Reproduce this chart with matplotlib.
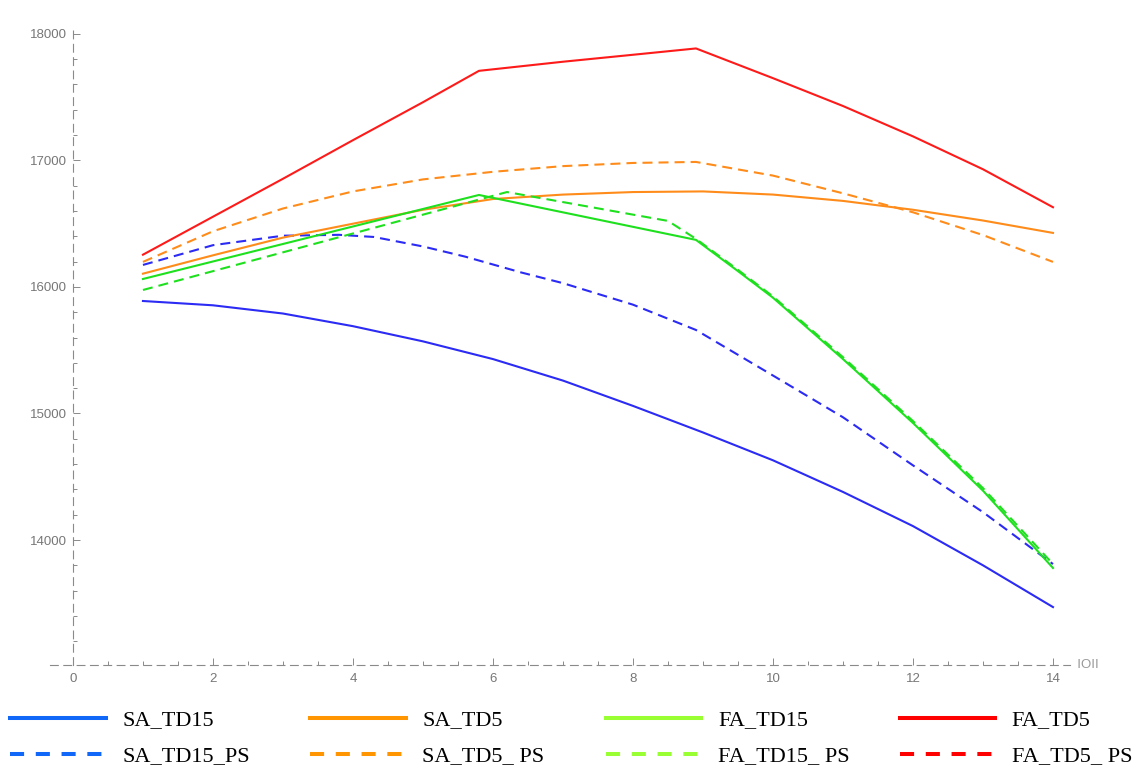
import matplotlib.pyplot as plt
from matplotlib.lines import Line2D
from matplotlib.ticker import MultipleLocator

# values
sa_td15_x = [1, 2, 3, 4, 5, 6, 7, 8, 9, 10, 11, 12, 13, 14]
sa_td15_y = [15889, 15855, 15790, 15690, 15570, 15430, 15260, 15060, 14850, 14630, 14380, 14110, 13800, 13470]

sa_td15_ps_x = [1, 2, 3, 3.8, 4.3, 5, 5.6, 6.4, 7, 8, 8.9, 10, 11, 12, 13, 14]
sa_td15_ps_y = [16174, 16330, 16405, 16412, 16395, 16320, 16240, 16115, 16030, 15860, 15660, 15300, 14970, 14590, 14220, 13810]

sa_td5_x = [1, 2, 3, 4, 5, 6, 7, 8, 9, 10, 11, 12, 13, 14]
sa_td5_y = [16105, 16250, 16390, 16500, 16610, 16695, 16730, 16750, 16755, 16730, 16680, 16610, 16525, 16427]

sa_td5_ps_x = [1, 2, 3, 4, 5, 6, 7, 8, 8.9, 10, 11, 12, 13, 14]
sa_td5_ps_y = [16198, 16440, 16620, 16755, 16850, 16910, 16955, 16980, 16988, 16880, 16740, 16590, 16410, 16198]

fa_td15_x = [1, 5.8, 8.9, 9.5, 10, 11, 12, 13, 14]
fa_td15_y = [16063, 16727, 16372, 16125, 15915, 15430, 14925, 14390, 13779]

fa_td15_ps_x = [1, 6.2, 8.5, 8.9, 9.5, 10, 11, 12, 13, 14]
fa_td15_ps_y = [15976, 16750, 16522, 16380, 16135, 15925, 15445, 14940, 14410, 13810]

fa_td5_x = [1, 2, 3, 4, 5, 5.8, 7, 8, 8.9, 10, 11, 12, 13, 14]
fa_td5_y = [16255, 16555, 16855, 17160, 17460, 17708, 17780, 17835, 17885, 17650, 17430, 17190, 16930, 16630]

labels_solid = ["SA_TD15", "SA_TD5", "FA_TD15", "FA_TD5"]
labels_dash = ["SA_TD15_PS", "SA_TD5_ PS", "FA_TD15_ PS", "FA_TD5_ PS"]

plot_colors = ["#2b2bf5", "#ff8c1a", "#1ee01e", "#ff1a1a"]
legend_colors = ["#1167f7", "#ff9500", "#99ff33", "#ff0000"]

fig = plt.figure(figsize=(11.46, 7.69), dpi=100)
ax = fig.add_axes([0.0435, 0.1352, 0.890, 0.826])

lw = 1.5
dash = (4.8, 2.9)
ax.plot(sa_td15_x, sa_td15_y, color=plot_colors[0], lw=lw)
ax.plot(sa_td15_ps_x, sa_td15_ps_y, color=plot_colors[0], lw=lw, dashes=dash)
ax.plot(sa_td5_x, sa_td5_y, color=plot_colors[1], lw=lw)
ax.plot(sa_td5_ps_x, sa_td5_ps_y, color=plot_colors[1], lw=lw, dashes=dash)
ax.plot(fa_td15_x, fa_td15_y, color=plot_colors[2], lw=lw)
ax.plot(fa_td15_ps_x, fa_td15_ps_y, color=plot_colors[2], lw=lw, dashes=dash)
ax.plot(fa_td5_x, fa_td5_y, color=plot_colors[3], lw=lw)

ax.set_xlim(-0.33, 14.24)
ax.set_ylim(13012, 18032)

axis_gray = "#8a8a8a"
for side in ["top", "right"]:
    ax.spines[side].set_visible(False)
ax.spines["left"].set_position(("data", 0))
for side in ["left", "bottom"]:
    ax.spines[side].set_color(axis_gray)
    ax.spines[side].set_linewidth(0.8)
    ax.spines[side].set_linestyle((0, (7, 5)))

ax.xaxis.set_major_locator(MultipleLocator(2))
ax.xaxis.set_minor_locator(MultipleLocator(0.5))
ax.yaxis.set_major_locator(MultipleLocator(1000))
ax.yaxis.set_minor_locator(MultipleLocator(200))
ax.tick_params(which="both", direction="in", color=axis_gray, width=0.7,
               labelcolor="#777777", labelsize=9.5)
ax.tick_params(which="major", length=5)
ax.tick_params(which="minor", length=3)
ax.tick_params(axis="x", pad=6)
ax.tick_params(axis="y", pad=4)
ax.set_yticks([14000, 15000, 16000, 17000, 18000])
for lab in ax.get_xticklabels() + ax.get_yticklabels():
    lab.set_family("Liberation Sans")

ax.text(0, 1.01, "Profit", transform=ax.get_yaxis_transform(), ha="center",
        va="bottom", color="#777777", fontsize=9.5, family="Liberation Sans")
ax.text(14.24, 13012, "  IOII", ha="left", va="center", color="#999999",
        fontsize=9.5, family="Liberation Sans")

# legend, one block per column
col_x = [0.0087, 0.2705, 0.5285, 0.785]
for i in range(4):
    handles = [
        Line2D([], [], color=legend_colors[i], lw=2.9),
        Line2D([], [], color=legend_colors[i], lw=2.9, dashes=(3.5, 2.9)),
    ]
    fig.legend(handles, [labels_solid[i], labels_dash[i]], loc="upper left",
               bbox_to_anchor=(col_x[i], 0.077), frameon=False, borderpad=0,
               borderaxespad=0, handlelength=4.3, handletextpad=0.75,
               labelspacing=0.7,
               prop={"family": "Liberation Serif", "size": 16})

fig.savefig("out.png", dpi=100)
